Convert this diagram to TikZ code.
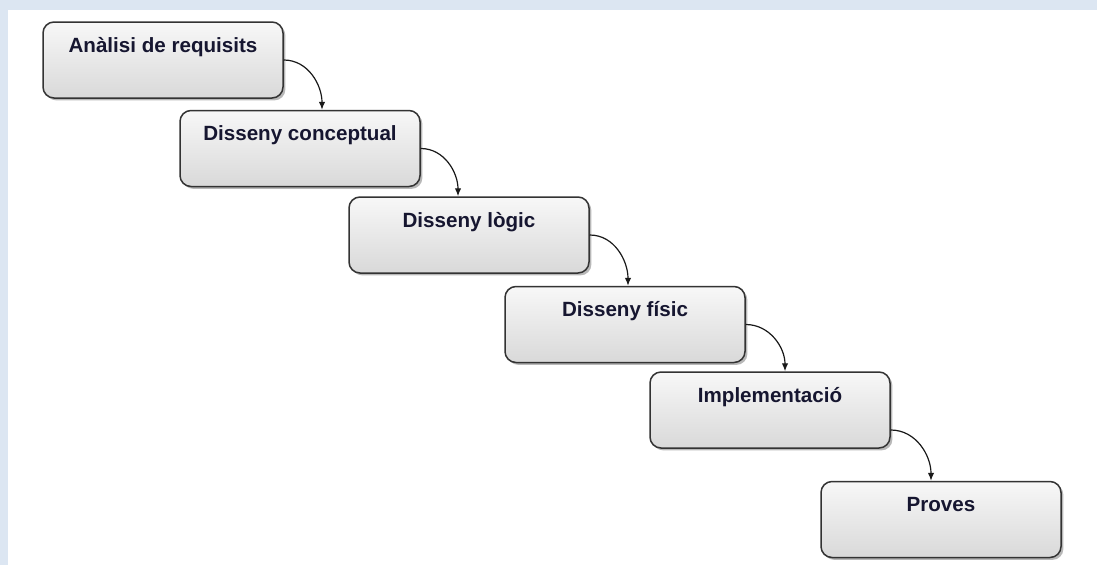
\documentclass[tikz,border=0pt]{standalone}
\usepackage{fontspec}
\setmainfont{Liberation Sans}
\usepackage{tikz}
\usetikzlibrary{arrows.meta,shadows}
\definecolor{frameblue}{RGB}{220,230,242}
\definecolor{phasetext}{RGB}{22,22,48}
\tikzset{
  phase/.style={draw=black!80, line width=1.5pt, rounded corners=11pt,
                top color=black!3, bottom color=black!15,
                drop shadow={fill=black!55, shadow xshift=2.4pt, shadow yshift=-2.4pt},
                minimum width=240pt, inner xsep=4pt, inner ysep=8pt,
                text height=22pt, text depth=38pt, align=center,
                text=phasetext, font=\bfseries\fontsize{20.6}{24}\selectfont},
  phasearrow/.style={-{Latex[length=8pt,width=6.5pt]}, line width=1.2pt, black!90}
}

\begin{document}
\begin{tikzpicture}[x=1pt,y=-1pt]
\useasboundingbox (0,0) rectangle (1097,565);
\fill[white] (0,0) rectangle (1097,565);
\fill[frameblue] (0,0) rectangle (1097,10);
\fill[frameblue] (0,0) rectangle (8,565);
\node[phase] (a) at (163,60)    {Anàlisi de requisits};
\node[phase] (b) at (300,148.5) {Disseny conceptual};
\node[phase] (c) at (469,235)   {Disseny lògic};
\node[phase] (d) at (625,324.5) {Disseny físic};
\node[phase] (e) at (770,410)   {Implementació};
\node[phase] (f) at (941,519.5) {Proves};
\draw[phasearrow] (a.east) to[out=0,in=90] ([xshift=22pt]b.north);
\draw[phasearrow] (b.east) to[out=0,in=90] ([xshift=-11pt]c.north);
\draw[phasearrow] (c.east) to[out=0,in=90] ([xshift=3pt]d.north);
\draw[phasearrow] (d.east) to[out=0,in=90] ([xshift=15pt]e.north);
\draw[phasearrow] ([yshift=-20pt]e.east) to[out=0,in=90] ([xshift=-10pt]f.north);
\end{tikzpicture}
\end{document}
